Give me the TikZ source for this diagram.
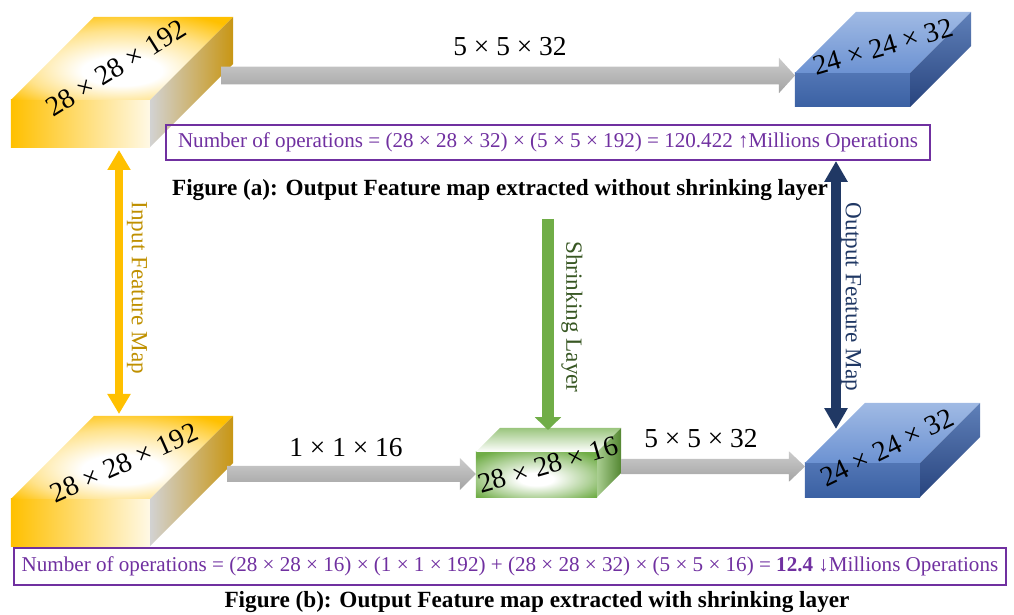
\documentclass[tikz,border=0pt]{standalone}
\usepackage{fontspec}
\setmainfont{Liberation Serif}
\usepackage{xcolor}
\definecolor{goldfill}{RGB}{255,192,0}
\definecolor{golddark}{RGB}{200,150,20}
\definecolor{goldtext}{RGB}{191,144,0}
\definecolor{bluefront}{RGB}{62,102,172}
\definecolor{bluetopA}{RGB}{160,186,228}
\definecolor{bluetopB}{RGB}{108,146,210}
\definecolor{bluesideA}{RGB}{95,128,185}
\definecolor{bluesideB}{RGB}{40,68,126}
\definecolor{greenface}{RGB}{112,173,71}
\definecolor{greendark}{RGB}{84,135,50}
\definecolor{greentext}{RGB}{56,87,35}
\definecolor{navyarrow}{RGB}{32,56,100}
\definecolor{opspurple}{RGB}{112,48,160}
\usepackage{tikz}
\usetikzlibrary{
    arrows.meta,
    calc,
    positioning
}
\pgfdeclareradialshading{goldglow}{\pgfpoint{0bp}{-9bp}}{%
    color(0bp)=(white); color(9bp)=(white); color(22bp)=(goldfill!45!white);
    color(33bp)=(goldfill); color(50bp)=(goldfill)}
\pgfdeclareradialshading{greenglow}{\pgfpoint{0bp}{-6bp}}{%
    color(0bp)=(white); color(7bp)=(white); color(22bp)=(greenface!55!white);
    color(33bp)=(greenface); color(50bp)=(greenface)}
\tikzset{
    front/.style      = {rectangle, inner sep=0pt, outer sep=0pt},
    yfront/.style     = {front, left color=goldfill, right color=goldfill!10},
    bfront/.style     = {front, top color=bluefront!90!white, bottom color=bluefront!95!black},
    gfront/.style     = {front, shading=greenglow},
    ytop/.style       = {shading=goldglow},
    yside/.style      = {left color=gray!35, right color=golddark},
    btop/.style       = {top color=bluetopA, bottom color=bluetopB},
    bside/.style      = {top color=bluesideA, bottom color=bluesideB},
    gtop/.style       = {top color=greenface!70, bottom color=white},
    gside/.style      = {left color=greenface!60!white, right color=greendark},
    boxlabel/.style   = {font=\fontsize{20}{24}\selectfont, inner sep=0pt},
    dimlabel/.style   = {font=\fontsize{19.5}{23}\selectfont, inner sep=0pt},
    opsbox/.style     = {rectangle, draw=opspurple, line width=1.4pt, text=opspurple,
                         font=\fontsize{15}{18}\selectfont, inner sep=0pt},
    caption/.style    = {font=\bfseries\fontsize{16.5}{19}\selectfont, inner sep=0pt},
    sidelabel/.style  = {rotate=-90, font=\fontsize{16.5}{19}\selectfont, inner sep=0pt},
    grayshade/.style  = {top color=gray!40, bottom color=gray!72},
    inArrow/.style    = {draw=goldfill, line width=0.2cm,
                         {Triangle[width=0.55cm,length=0.5cm]}-{Triangle[width=0.55cm,length=0.5cm]}},
    shrinkArrow/.style= {draw=greenface, line width=0.32cm,
                         -{Triangle[width=0.64cm,length=0.32cm]}},
    outArrow/.style   = {draw=navyarrow, line width=0.25cm,
                         {Triangle[width=0.55cm,length=0.52cm]}-{Triangle[width=0.55cm,length=0.52cm]}}
}
% top and side faces of a feature map block
\newcommand{\boxfaces}[4]{%
  \shade[#3] (#1.north west) -- ++(#2,-#2) -- ($(#1.north east)+(#2,-#2)$) -- (#1.north east) -- cycle;
  \shade[#4] (#1.north east) -- ++(#2,-#2) -- ($(#1.south east)+(#2,-#2)$) -- (#1.south east) -- cycle;
}
% wide grey block arrow
\newcommand{\grayarrow}[3]{%
  \shade[grayshade] let \p1=(#1), \p2=(#2) in
    (\x1,\y1+#3) -- (\x2-0.4cm,\y1+#3) -- (\x2-0.4cm,\y1+2*#3) -- (\x2,\y1)
    -- (\x2-0.4cm,\y1-2*#3) -- (\x2-0.4cm,\y1-#3) -- (\x1,\y1-#3) -- cycle;
}

\begin{document}
\begin{tikzpicture}[x=0.025cm, y=-0.025cm]
\useasboundingbox (0,0) rectangle (1014,615);

% blocks
\node[yfront, minimum width=3.475cm, minimum height=1.175cm] (inA)  at (80.5,123.5) {};
\node[bfront, minimum width=2.875cm, minimum height=0.85cm]  (outA) at (852.5,90) {};
\node[yfront, minimum width=3.475cm, minimum height=1.175cm] (inB)  at (80.5,522.5) {};
\node[gfront, minimum width=3.025cm, minimum height=1.125cm] (shrB) at (536.5,474.5) {};
\node[bfront, minimum width=2.875cm, minimum height=0.85cm]  (outB) at (862.5,480) {};
\boxfaces{inA}{83}{ytop}{yside}
\boxfaces{outA}{61}{btop}{bside}
\boxfaces{inB}{83}{ytop}{yside}
\boxfaces{shrB}{24}{gtop}{gside}
\boxfaces{outB}{60}{btop}{bside}

\node[boxlabel, rotate=32] (inAlab)  at (116,68)  {28 × 28 × 192};
\node[boxlabel, rotate=16] (outAlab) at (883,47)  {24 × 24 × 32};
\node[boxlabel, rotate=24] (inBlab)  at (124,463) {28 × 28 × 192};
\node[boxlabel, rotate=16] (shrBlab) at (548,465) {28 × 28 × 16};
\node[boxlabel, rotate=26] (outBlab) at (887,448) {24 × 24 × 32};

% convolution arrows
\coordinate (aTail)  at (221,75.5);
\coordinate (b1Tail) at (227,474);
\coordinate (b2Tail) at (621,466.5);
\grayarrow{aTail}{aTail -| outA.west}{0.22cm}
\grayarrow{b1Tail}{b1Tail -| shrB.west}{0.2cm}
\grayarrow{b2Tail}{b2Tail -| outB.west}{0.19cm}
\node[dimlabel] (aDim)  at (510,47)  {5 × 5 × 32};
\node[dimlabel] (b1Dim) at (346,448) {1 × 1 × 16};
\node[dimlabel] (b2Dim) at (701,439) {5 × 5 × 32};

% operation counts and captions
\node[opsbox, minimum width=19.1cm, minimum height=0.875cm] (opsA) at (548,142.5)
   {Number of operations = (28 × 28 × 32) × (5 × 5 × 192) = 120.422 ↑Millions Operations};
\node[caption] (capA) at (500,190)
   {Figure (a): Output Feature map extracted without shrinking layer};
\node[opsbox, minimum width=24.8cm, minimum height=0.925cm] (opsB) at (510,566.5)
   {Number of operations = (28 × 28 × 16) × (1 × 1 × 192) + (28 × 28 × 32) × (5 × 5 × 16) = \textbf{12.4} ↓Millions Operations};
\node[caption] (capB) at (537,602)
   {Figure (b): Output Feature map extracted with shrinking layer};

% vertical arrows
\coordinate (inTop)     at (119,150);
\coordinate (inBot)     at (119,414);
\coordinate (shrinkTop) at (548,219);
\coordinate (shrinkBot) at (548,430);
\coordinate (outTop)    at (836,161);
\coordinate (outBot)    at (836,429);
\draw[inArrow]     (inTop) -- (inBot);
\draw[shrinkArrow] (shrinkTop) -- (shrinkBot);
\draw[outArrow]    (outTop) -- (outBot);
\node[sidelabel, text=goldtext]  (inLab)     at (137,288) {Input Feature Map};
\node[sidelabel, text=greentext] (shrinkLab) at (572,317) {Shrinking Layer};
\node[sidelabel, text=navyarrow] (outLab)    at (851,297) {Output Feature Map};
\end{tikzpicture}
\end{document}
